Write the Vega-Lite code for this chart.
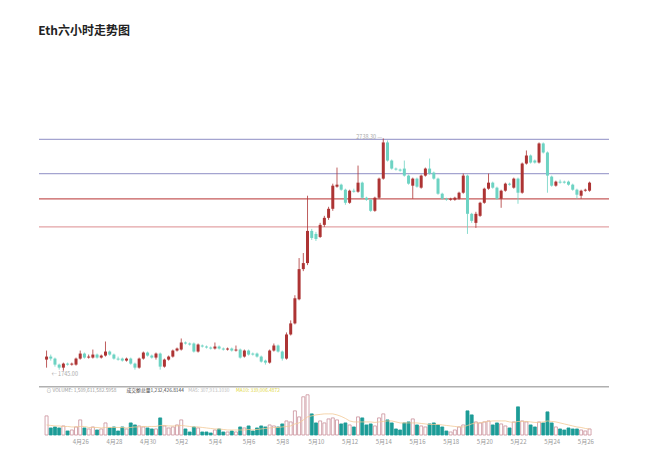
{
  "$schema": "https://vega.github.io/schema/vega-lite/v6.json",
  "width": 650,
  "height": 457,
  "autosize": {"type": "fit", "contains": "padding"},
  "padding": {"left": 38, "right": 40, "top": 25, "bottom": 13},
  "background": "white",
  "title": {"text": "Eth六小时走势图", "anchor": "start", "fontSize": 12, "fontWeight": "bold", "font": "Noto Sans CJK SC", "color": "#222222", "offset": 22},
  "config": {"view": {"stroke": null}, "text": {"font": "Noto Sans CJK SC"}},
  "datasets": {
    "k": [
      {"t":"2025-04-24T00:00","o":1792.3,"h":1831.0,"l":1757.9,"c":1805.2,"v":380000,"ma":200000},
      {"t":"2025-04-24T06:00","o":1805.2,"h":1813.8,"l":1788.0,"c":1796.6,"v":140000,"ma":190000},
      {"t":"2025-04-24T12:00","o":1796.6,"h":1800.9,"l":1762.2,"c":1770.8,"v":160000,"ma":180000},
      {"t":"2025-04-24T18:00","o":1770.8,"h":1775.1,"l":1749.3,"c":1757.9,"v":140000,"ma":180000},
      {"t":"2025-04-25T00:00","o":1757.9,"h":1779.4,"l":1745.0,"c":1775.1,"v":180000,"ma":170000},
      {"t":"2025-04-25T06:00","o":1775.1,"h":1779.4,"l":1766.5,"c":1770.8,"v":80000,"ma":170000},
      {"t":"2025-04-25T12:00","o":1770.8,"h":1779.4,"l":1766.5,"c":1775.1,"v":100000,"ma":160000},
      {"t":"2025-04-25T18:00","o":1770.8,"h":1800.9,"l":1766.5,"c":1796.6,"v":160000,"ma":160000},
      {"t":"2025-04-26T00:00","o":1796.6,"h":1831.0,"l":1792.3,"c":1818.1,"v":300000,"ma":170000},
      {"t":"2025-04-26T06:00","o":1818.1,"h":1822.4,"l":1796.6,"c":1800.9,"v":140000,"ma":170000},
      {"t":"2025-04-26T12:00","o":1800.9,"h":1813.8,"l":1796.6,"c":1805.2,"v":120000,"ma":150000},
      {"t":"2025-04-26T18:00","o":1800.9,"h":1835.3,"l":1796.6,"c":1813.8,"v":160000,"ma":150000},
      {"t":"2025-04-27T00:00","o":1813.8,"h":1818.1,"l":1796.6,"c":1800.9,"v":100000,"ma":150000},
      {"t":"2025-04-27T06:00","o":1800.9,"h":1813.8,"l":1796.6,"c":1809.5,"v":120000,"ma":140000},
      {"t":"2025-04-27T12:00","o":1809.5,"h":1869.7,"l":1805.2,"c":1826.7,"v":240000,"ma":150000},
      {"t":"2025-04-27T18:00","o":1826.7,"h":1831.0,"l":1809.5,"c":1813.8,"v":140000,"ma":150000},
      {"t":"2025-04-28T00:00","o":1813.8,"h":1818.1,"l":1792.3,"c":1796.6,"v":160000,"ma":150000},
      {"t":"2025-04-28T06:00","o":1796.6,"h":1805.2,"l":1788.0,"c":1792.3,"v":80000,"ma":150000},
      {"t":"2025-04-28T12:00","o":1796.6,"h":1800.9,"l":1783.7,"c":1788.0,"v":160000,"ma":150000},
      {"t":"2025-04-28T18:00","o":1788.0,"h":1800.9,"l":1783.7,"c":1796.6,"v":120000,"ma":140000},
      {"t":"2025-04-29T00:00","o":1796.6,"h":1800.9,"l":1770.8,"c":1775.1,"v":240000,"ma":150000},
      {"t":"2025-04-29T06:00","o":1775.1,"h":1779.4,"l":1749.3,"c":1757.9,"v":200000,"ma":160000},
      {"t":"2025-04-29T12:00","o":1757.9,"h":1800.9,"l":1753.6,"c":1796.6,"v":180000,"ma":160000},
      {"t":"2025-04-29T18:00","o":1796.6,"h":1826.7,"l":1792.3,"c":1822.4,"v":160000,"ma":170000},
      {"t":"2025-04-30T00:00","o":1822.4,"h":1826.7,"l":1805.2,"c":1809.5,"v":140000,"ma":170000},
      {"t":"2025-04-30T06:00","o":1809.5,"h":1813.8,"l":1796.6,"c":1800.9,"v":120000,"ma":170000},
      {"t":"2025-04-30T12:00","o":1800.9,"h":1822.4,"l":1792.3,"c":1818.1,"v":120000,"ma":170000},
      {"t":"2025-04-30T18:00","o":1818.1,"h":1822.4,"l":1749.3,"c":1762.2,"v":340000,"ma":190000},
      {"t":"2025-05-01T00:00","o":1762.2,"h":1796.6,"l":1757.9,"c":1792.3,"v":180000,"ma":190000},
      {"t":"2025-05-01T06:00","o":1792.3,"h":1809.5,"l":1788.0,"c":1805.2,"v":140000,"ma":180000},
      {"t":"2025-05-01T12:00","o":1805.2,"h":1835.3,"l":1800.9,"c":1831.0,"v":160000,"ma":180000},
      {"t":"2025-05-01T18:00","o":1831.0,"h":1843.9,"l":1826.7,"c":1839.6,"v":200000,"ma":180000},
      {"t":"2025-05-02T00:00","o":1835.3,"h":1882.6,"l":1831.0,"c":1865.4,"v":300000,"ma":190000},
      {"t":"2025-05-02T06:00","o":1865.4,"h":1869.7,"l":1856.8,"c":1861.1,"v":120000,"ma":180000},
      {"t":"2025-05-02T12:00","o":1861.1,"h":1865.4,"l":1852.5,"c":1856.8,"v":60000,"ma":170000},
      {"t":"2025-05-02T18:00","o":1861.1,"h":1865.4,"l":1822.4,"c":1826.7,"v":160000,"ma":160000},
      {"t":"2025-05-03T00:00","o":1826.7,"h":1861.1,"l":1822.4,"c":1856.8,"v":140000,"ma":160000},
      {"t":"2025-05-03T06:00","o":1852.5,"h":1856.8,"l":1843.9,"c":1848.2,"v":60000,"ma":150000},
      {"t":"2025-05-03T12:00","o":1848.2,"h":1852.5,"l":1839.6,"c":1843.9,"v":60000,"ma":140000},
      {"t":"2025-05-03T18:00","o":1843.9,"h":1848.2,"l":1835.3,"c":1839.6,"v":40000,"ma":130000},
      {"t":"2025-05-04T00:00","o":1839.6,"h":1865.4,"l":1835.3,"c":1848.2,"v":100000,"ma":120000},
      {"t":"2025-05-04T06:00","o":1848.2,"h":1852.5,"l":1835.3,"c":1839.6,"v":120000,"ma":120000},
      {"t":"2025-05-04T12:00","o":1839.6,"h":1843.9,"l":1831.0,"c":1835.3,"v":60000,"ma":110000},
      {"t":"2025-05-04T18:00","o":1835.3,"h":1843.9,"l":1831.0,"c":1839.6,"v":60000,"ma":100000},
      {"t":"2025-05-05T00:00","o":1839.6,"h":1843.9,"l":1826.7,"c":1831.0,"v":80000,"ma":100000},
      {"t":"2025-05-05T06:00","o":1831.0,"h":1852.5,"l":1826.7,"c":1835.3,"v":60000,"ma":100000},
      {"t":"2025-05-05T12:00","o":1835.3,"h":1839.6,"l":1796.6,"c":1800.9,"v":160000,"ma":100000},
      {"t":"2025-05-05T18:00","o":1805.2,"h":1835.3,"l":1800.9,"c":1831.0,"v":140000,"ma":100000},
      {"t":"2025-05-06T00:00","o":1831.0,"h":1835.3,"l":1809.5,"c":1813.8,"v":180000,"ma":110000},
      {"t":"2025-05-06T06:00","o":1818.1,"h":1822.4,"l":1809.5,"c":1813.8,"v":80000,"ma":100000},
      {"t":"2025-05-06T12:00","o":1818.1,"h":1822.4,"l":1800.9,"c":1805.2,"v":140000,"ma":110000},
      {"t":"2025-05-06T18:00","o":1805.2,"h":1809.5,"l":1779.4,"c":1783.7,"v":180000,"ma":120000},
      {"t":"2025-05-07T00:00","o":1788.0,"h":1792.3,"l":1770.8,"c":1779.4,"v":160000,"ma":130000},
      {"t":"2025-05-07T06:00","o":1779.4,"h":1835.3,"l":1775.1,"c":1831.0,"v":200000,"ma":140000},
      {"t":"2025-05-07T12:00","o":1831.0,"h":1861.1,"l":1826.7,"c":1852.5,"v":180000,"ma":150000},
      {"t":"2025-05-07T18:00","o":1852.5,"h":1856.8,"l":1822.4,"c":1826.7,"v":160000,"ma":150000},
      {"t":"2025-05-08T00:00","o":1826.7,"h":1831.0,"l":1788.0,"c":1796.6,"v":220000,"ma":160000},
      {"t":"2025-05-08T06:00","o":1796.6,"h":1908.4,"l":1792.3,"c":1899.8,"v":280000,"ma":170000},
      {"t":"2025-05-08T12:00","o":1899.8,"h":1960.0,"l":1895.5,"c":1947.1,"v":260000,"ma":180000},
      {"t":"2025-05-08T18:00","o":1947.1,"h":2067.5,"l":1942.8,"c":2054.6,"v":480000,"ma":220000},
      {"t":"2025-05-09T00:00","o":2050.3,"h":2226.6,"l":2046.0,"c":2179.3,"v":360000,"ma":240000},
      {"t":"2025-05-09T06:00","o":2179.3,"h":2248.1,"l":2170.7,"c":2205.1,"v":760000,"ma":300000},
      {"t":"2025-05-09T12:00","o":2205.1,"h":2493.2,"l":2196.5,"c":2342.7,"v":800000,"ma":360000},
      {"t":"2025-05-09T18:00","o":2342.7,"h":2351.3,"l":2304.0,"c":2312.6,"v":420000,"ma":380000},
      {"t":"2025-05-10T00:00","o":2329.8,"h":2338.4,"l":2299.7,"c":2308.3,"v":240000,"ma":400000},
      {"t":"2025-05-10T06:00","o":2316.9,"h":2377.1,"l":2312.6,"c":2368.5,"v":280000,"ma":410000},
      {"t":"2025-05-10T12:00","o":2368.5,"h":2407.2,"l":2359.9,"c":2398.6,"v":240000,"ma":420000},
      {"t":"2025-05-10T18:00","o":2398.6,"h":2445.9,"l":2390.0,"c":2437.3,"v":320000,"ma":420000},
      {"t":"2025-05-11T00:00","o":2437.3,"h":2544.8,"l":2428.7,"c":2536.2,"v":340000,"ma":420000},
      {"t":"2025-05-11T06:00","o":2531.9,"h":2613.6,"l":2527.6,"c":2540.5,"v":300000,"ma":400000},
      {"t":"2025-05-11T12:00","o":2540.5,"h":2544.8,"l":2514.7,"c":2519.0,"v":220000,"ma":370000},
      {"t":"2025-05-11T18:00","o":2519.0,"h":2523.3,"l":2454.5,"c":2463.1,"v":240000,"ma":330000},
      {"t":"2025-05-12T00:00","o":2463.1,"h":2519.0,"l":2458.8,"c":2514.7,"v":200000,"ma":280000},
      {"t":"2025-05-12T06:00","o":2514.7,"h":2523.3,"l":2506.1,"c":2510.4,"v":160000,"ma":260000},
      {"t":"2025-05-12T12:00","o":2510.4,"h":2622.2,"l":2506.1,"c":2549.1,"v":360000,"ma":260000},
      {"t":"2025-05-12T18:00","o":2549.1,"h":2553.4,"l":2480.3,"c":2484.6,"v":340000,"ma":260000},
      {"t":"2025-05-13T00:00","o":2484.6,"h":2488.9,"l":2471.7,"c":2476.0,"v":200000,"ma":260000},
      {"t":"2025-05-13T06:00","o":2476.0,"h":2480.3,"l":2424.4,"c":2428.7,"v":220000,"ma":260000},
      {"t":"2025-05-13T12:00","o":2428.7,"h":2488.9,"l":2424.4,"c":2484.6,"v":180000,"ma":250000},
      {"t":"2025-05-13T18:00","o":2484.6,"h":2570.6,"l":2480.3,"c":2566.3,"v":340000,"ma":260000},
      {"t":"2025-05-14T00:00","o":2566.3,"h":2738.3,"l":2562.0,"c":2721.1,"v":420000,"ma":270000},
      {"t":"2025-05-14T06:00","o":2721.1,"h":2729.7,"l":2639.4,"c":2643.7,"v":300000,"ma":280000},
      {"t":"2025-05-14T12:00","o":2643.7,"h":2648.0,"l":2605.0,"c":2609.3,"v":240000,"ma":280000},
      {"t":"2025-05-14T18:00","o":2609.3,"h":2613.6,"l":2600.7,"c":2605.0,"v":120000,"ma":260000},
      {"t":"2025-05-15T00:00","o":2605.0,"h":2609.3,"l":2596.4,"c":2600.7,"v":100000,"ma":240000},
      {"t":"2025-05-15T06:00","o":2609.3,"h":2643.7,"l":2574.9,"c":2579.2,"v":240000,"ma":240000},
      {"t":"2025-05-15T12:00","o":2579.2,"h":2583.5,"l":2540.5,"c":2544.8,"v":260000,"ma":240000},
      {"t":"2025-05-15T18:00","o":2536.2,"h":2570.6,"l":2480.3,"c":2566.3,"v":320000,"ma":240000},
      {"t":"2025-05-16T00:00","o":2566.3,"h":2570.6,"l":2527.6,"c":2531.9,"v":200000,"ma":240000},
      {"t":"2025-05-16T06:00","o":2527.6,"h":2583.5,"l":2523.3,"c":2579.2,"v":180000,"ma":230000},
      {"t":"2025-05-16T12:00","o":2579.2,"h":2613.6,"l":2574.9,"c":2609.3,"v":160000,"ma":220000},
      {"t":"2025-05-16T18:00","o":2609.3,"h":2652.3,"l":2583.5,"c":2587.8,"v":220000,"ma":210000},
      {"t":"2025-05-17T00:00","o":2592.1,"h":2596.4,"l":2562.0,"c":2566.3,"v":240000,"ma":210000},
      {"t":"2025-05-17T06:00","o":2566.3,"h":2570.6,"l":2497.5,"c":2501.8,"v":200000,"ma":210000},
      {"t":"2025-05-17T12:00","o":2501.8,"h":2506.1,"l":2476.0,"c":2480.3,"v":160000,"ma":200000},
      {"t":"2025-05-17T18:00","o":2480.3,"h":2484.6,"l":2471.7,"c":2476.0,"v":80000,"ma":190000},
      {"t":"2025-05-18T00:00","o":2476.0,"h":2484.6,"l":2471.7,"c":2480.3,"v":60000,"ma":180000},
      {"t":"2025-05-18T06:00","o":2476.0,"h":2488.9,"l":2471.7,"c":2484.6,"v":100000,"ma":170000},
      {"t":"2025-05-18T12:00","o":2480.3,"h":2510.4,"l":2476.0,"c":2506.1,"v":160000,"ma":160000},
      {"t":"2025-05-18T18:00","o":2506.1,"h":2587.8,"l":2501.8,"c":2579.2,"v":200000,"ma":160000},
      {"t":"2025-05-19T00:00","o":2579.2,"h":2583.5,"l":2329.8,"c":2415.8,"v":480000,"ma":190000},
      {"t":"2025-05-19T06:00","o":2415.8,"h":2420.1,"l":2377.1,"c":2385.7,"v":400000,"ma":220000},
      {"t":"2025-05-19T12:00","o":2377.1,"h":2424.4,"l":2355.6,"c":2415.8,"v":260000,"ma":240000},
      {"t":"2025-05-19T18:00","o":2407.2,"h":2467.4,"l":2402.9,"c":2463.1,"v":240000,"ma":240000},
      {"t":"2025-05-20T00:00","o":2463.1,"h":2527.6,"l":2458.8,"c":2523.3,"v":260000,"ma":260000},
      {"t":"2025-05-20T06:00","o":2523.3,"h":2587.8,"l":2519.0,"c":2549.1,"v":280000,"ma":270000},
      {"t":"2025-05-20T12:00","o":2549.1,"h":2553.4,"l":2523.3,"c":2527.6,"v":200000,"ma":280000},
      {"t":"2025-05-20T18:00","o":2527.6,"h":2531.9,"l":2476.0,"c":2480.3,"v":240000,"ma":280000},
      {"t":"2025-05-21T00:00","o":2480.3,"h":2519.0,"l":2441.6,"c":2514.7,"v":220000,"ma":280000},
      {"t":"2025-05-21T06:00","o":2514.7,"h":2549.1,"l":2510.4,"c":2544.8,"v":180000,"ma":280000},
      {"t":"2025-05-21T12:00","o":2544.8,"h":2549.1,"l":2536.2,"c":2540.5,"v":140000,"ma":260000},
      {"t":"2025-05-21T18:00","o":2527.6,"h":2570.6,"l":2523.3,"c":2566.3,"v":260000,"ma":250000},
      {"t":"2025-05-22T00:00","o":2566.3,"h":2570.6,"l":2458.8,"c":2506.1,"v":560000,"ma":270000},
      {"t":"2025-05-22T06:00","o":2506.1,"h":2635.1,"l":2501.8,"c":2630.8,"v":280000,"ma":270000},
      {"t":"2025-05-22T12:00","o":2630.8,"h":2686.7,"l":2626.5,"c":2665.2,"v":260000,"ma":270000},
      {"t":"2025-05-22T18:00","o":2665.2,"h":2669.5,"l":2630.8,"c":2635.1,"v":200000,"ma":260000},
      {"t":"2025-05-23T00:00","o":2643.7,"h":2648.0,"l":2630.8,"c":2635.1,"v":160000,"ma":250000},
      {"t":"2025-05-23T06:00","o":2635.1,"h":2721.1,"l":2630.8,"c":2716.8,"v":260000,"ma":250000},
      {"t":"2025-05-23T12:00","o":2716.8,"h":2721.1,"l":2673.8,"c":2678.1,"v":240000,"ma":260000},
      {"t":"2025-05-23T18:00","o":2678.1,"h":2682.4,"l":2506.1,"c":2579.2,"v":460000,"ma":280000},
      {"t":"2025-05-24T00:00","o":2574.9,"h":2579.2,"l":2531.9,"c":2536.2,"v":240000,"ma":270000},
      {"t":"2025-05-24T06:00","o":2536.2,"h":2557.7,"l":2531.9,"c":2553.4,"v":160000,"ma":260000},
      {"t":"2025-05-24T12:00","o":2553.4,"h":2562.0,"l":2544.8,"c":2549.1,"v":120000,"ma":240000},
      {"t":"2025-05-24T18:00","o":2553.4,"h":2557.7,"l":2544.8,"c":2549.1,"v":100000,"ma":220000},
      {"t":"2025-05-25T00:00","o":2553.4,"h":2557.7,"l":2536.2,"c":2540.5,"v":140000,"ma":200000},
      {"t":"2025-05-25T06:00","o":2540.5,"h":2544.8,"l":2514.7,"c":2519.0,"v":120000,"ma":180000},
      {"t":"2025-05-25T12:00","o":2519.0,"h":2523.3,"l":2480.3,"c":2497.5,"v":120000,"ma":160000},
      {"t":"2025-05-25T18:00","o":2493.2,"h":2519.0,"l":2480.3,"c":2514.7,"v":100000,"ma":150000},
      {"t":"2025-05-26T00:00","o":2514.7,"h":2523.3,"l":2510.4,"c":2519.0,"v":80000,"ma":130000},
      {"t":"2025-05-26T06:00","o":2514.7,"h":2553.4,"l":2510.4,"c":2549.1,"v":120000,"ma":120000}
    ]
  },
  "layer": [
    {
      "layer": [
        {
          "data": {"values": [{"p": 2734, "k": "a"}, {"p": 2588, "k": "b"}, {"p": 2480, "k": "c"}, {"p": 2360, "k": "d"}]},
          "mark": {"type": "rule", "strokeWidth": 1.3},
          "encoding": {
            "y": {"field": "p", "type": "quantitative", "scale": {"domain": [1469.8, 3073.7], "nice": false, "zero": false}, "axis": null},
            "color": {"condition": [{"test": "datum.k === 'a' || datum.k === 'b'", "value": "#a4a4d0"}, {"test": "datum.k === 'c'", "value": "#c65a5a"}], "value": "#e3a3a6"}
          }
        },
        {
          "data": {"name": "k"},
          "mark": {"type": "rule", "strokeWidth": 0.8},
          "encoding": {
            "x": {"field": "t", "type": "temporal", "scale": {"domain": [{"year": 2025, "month": 4, "date": 23, "hours": 20, "minutes": 22}, {"year": 2025, "month": 5, "date": 27, "hours": 2, "minutes": 36}]},
              "axis": {"title": null, "values": [{"year": 2025, "month": 4, "date": 26}, {"year": 2025, "month": 4, "date": 28}, {"year": 2025, "month": 4, "date": 30}, {"year": 2025, "month": 5, "date": 2}, {"year": 2025, "month": 5, "date": 4}, {"year": 2025, "month": 5, "date": 6}, {"year": 2025, "month": 5, "date": 8}, {"year": 2025, "month": 5, "date": 10}, {"year": 2025, "month": 5, "date": 12}, {"year": 2025, "month": 5, "date": 14}, {"year": 2025, "month": 5, "date": 16}, {"year": 2025, "month": 5, "date": 18}, {"year": 2025, "month": 5, "date": 20}, {"year": 2025, "month": 5, "date": 22}, {"year": 2025, "month": 5, "date": 24}, {"year": 2025, "month": 5, "date": 26}], "labelExpr": "(month(datum.value) + 1) + '月' + date(datum.value)", "domain": false, "ticks": false, "grid": false, "labelFontSize": 6, "labelColor": "#999999", "labelPadding": 3, "labelFont": "Noto Sans CJK SC"}},
            "y": {"field": "l", "type": "quantitative", "scale": {"domain": [1469.8, 3073.7], "nice": false, "zero": false}, "axis": null},
            "y2": {"field": "h"},
            "color": {"condition": {"test": "datum.c >= datum.o", "value": "#ad3434"}, "value": "#6dd3c3"}
          }
        },
        {
          "data": {"name": "k"},
          "mark": {"type": "bar", "width": 3},
          "encoding": {
            "x": {"field": "t", "type": "temporal", "scale": {"domain": [{"year": 2025, "month": 4, "date": 23, "hours": 20, "minutes": 22}, {"year": 2025, "month": 5, "date": 27, "hours": 2, "minutes": 36}]},
              "axis": {"title": null, "values": [{"year": 2025, "month": 4, "date": 26}, {"year": 2025, "month": 4, "date": 28}, {"year": 2025, "month": 4, "date": 30}, {"year": 2025, "month": 5, "date": 2}, {"year": 2025, "month": 5, "date": 4}, {"year": 2025, "month": 5, "date": 6}, {"year": 2025, "month": 5, "date": 8}, {"year": 2025, "month": 5, "date": 10}, {"year": 2025, "month": 5, "date": 12}, {"year": 2025, "month": 5, "date": 14}, {"year": 2025, "month": 5, "date": 16}, {"year": 2025, "month": 5, "date": 18}, {"year": 2025, "month": 5, "date": 20}, {"year": 2025, "month": 5, "date": 22}, {"year": 2025, "month": 5, "date": 24}, {"year": 2025, "month": 5, "date": 26}], "labelExpr": "(month(datum.value) + 1) + '月' + date(datum.value)", "domain": false, "ticks": false, "grid": false, "labelFontSize": 6, "labelColor": "#999999", "labelPadding": 3, "labelFont": "Noto Sans CJK SC"}},
            "y": {"field": "o", "type": "quantitative", "scale": {"domain": [1469.8, 3073.7], "nice": false, "zero": false}, "axis": null},
            "y2": {"field": "c"},
            "color": {"condition": {"test": "datum.c >= datum.o", "value": "#ad3434"}, "value": "#6dd3c3"}
          }
        },
        {
          "data": {"values": [{"t": "2025-05-14T00:00", "p": 2738.3, "label": "2738.30 —"}]},
          "mark": {"type": "text", "align": "right", "baseline": "middle", "dx": -1, "dy": -1, "fontSize": 5.5, "color": "#aaaaaa"},
          "encoding": {
            "x": {"field": "t", "type": "temporal", "scale": {"domain": [{"year": 2025, "month": 4, "date": 23, "hours": 20, "minutes": 22}, {"year": 2025, "month": 5, "date": 27, "hours": 2, "minutes": 36}]},
              "axis": {"title": null, "values": [{"year": 2025, "month": 4, "date": 26}, {"year": 2025, "month": 4, "date": 28}, {"year": 2025, "month": 4, "date": 30}, {"year": 2025, "month": 5, "date": 2}, {"year": 2025, "month": 5, "date": 4}, {"year": 2025, "month": 5, "date": 6}, {"year": 2025, "month": 5, "date": 8}, {"year": 2025, "month": 5, "date": 10}, {"year": 2025, "month": 5, "date": 12}, {"year": 2025, "month": 5, "date": 14}, {"year": 2025, "month": 5, "date": 16}, {"year": 2025, "month": 5, "date": 18}, {"year": 2025, "month": 5, "date": 20}, {"year": 2025, "month": 5, "date": 22}, {"year": 2025, "month": 5, "date": 24}, {"year": 2025, "month": 5, "date": 26}], "labelExpr": "(month(datum.value) + 1) + '月' + date(datum.value)", "domain": false, "ticks": false, "grid": false, "labelFontSize": 6, "labelColor": "#999999", "labelPadding": 3, "labelFont": "Noto Sans CJK SC"}},
            "y": {"field": "p", "type": "quantitative", "scale": {"domain": [1469.8, 3073.7], "nice": false, "zero": false}, "axis": null},
            "text": {"field": "label"}
          }
        },
        {
          "data": {"values": [{"t": "2025-04-25T00:00", "p": 1745.0, "label": "← 1745.00"}]},
          "mark": {"type": "text", "align": "left", "baseline": "top", "dx": -12, "dy": 1, "fontSize": 5.5, "color": "#aaaaaa"},
          "encoding": {
            "x": {"field": "t", "type": "temporal", "scale": {"domain": [{"year": 2025, "month": 4, "date": 23, "hours": 20, "minutes": 22}, {"year": 2025, "month": 5, "date": 27, "hours": 2, "minutes": 36}]},
              "axis": {"title": null, "values": [{"year": 2025, "month": 4, "date": 26}, {"year": 2025, "month": 4, "date": 28}, {"year": 2025, "month": 4, "date": 30}, {"year": 2025, "month": 5, "date": 2}, {"year": 2025, "month": 5, "date": 4}, {"year": 2025, "month": 5, "date": 6}, {"year": 2025, "month": 5, "date": 8}, {"year": 2025, "month": 5, "date": 10}, {"year": 2025, "month": 5, "date": 12}, {"year": 2025, "month": 5, "date": 14}, {"year": 2025, "month": 5, "date": 16}, {"year": 2025, "month": 5, "date": 18}, {"year": 2025, "month": 5, "date": 20}, {"year": 2025, "month": 5, "date": 22}, {"year": 2025, "month": 5, "date": 24}, {"year": 2025, "month": 5, "date": 26}], "labelExpr": "(month(datum.value) + 1) + '月' + date(datum.value)", "domain": false, "ticks": false, "grid": false, "labelFontSize": 6, "labelColor": "#999999", "labelPadding": 3, "labelFont": "Noto Sans CJK SC"}},
            "y": {"field": "p", "type": "quantitative", "scale": {"domain": [1469.8, 3073.7], "nice": false, "zero": false}, "axis": null},
            "text": {"field": "label"}
          }
        }
      ]
    },
    {
      "layer": [
        {
          "data": {"values": [{"v": 960000}]},
          "mark": {"type": "rule", "color": "#b0b0b0", "strokeWidth": 1.5},
          "encoding": {
            "y": {"field": "v", "type": "quantitative", "scale": {"domain": [0, 7460000], "nice": false, "zero": true}, "axis": null}
          }
        },
        {
          "data": {"values": [
            {"t": "2025-04-24T00:00", "v": 880000, "label": "⊙ VOLUME: 1,509,611,582.5958", "g": "a"},
            {"t": "2025-04-28T18:00", "v": 880000, "label": "成交额总量1,232,426.8144", "g": "b"},
            {"t": "2025-05-02T10:00", "v": 880000, "label": "MA5: 307,913.1030", "g": "c"},
            {"t": "2025-05-05T06:00", "v": 880000, "label": "MA10: 339,006.4872", "g": "d"}
          ]},
          "mark": {"type": "text", "align": "left", "baseline": "middle", "fontSize": 4.8},
          "encoding": {
            "x": {"field": "t", "type": "temporal", "scale": {"domain": [{"year": 2025, "month": 4, "date": 23, "hours": 20, "minutes": 22}, {"year": 2025, "month": 5, "date": 27, "hours": 2, "minutes": 36}]},
              "axis": {"title": null, "values": [{"year": 2025, "month": 4, "date": 26}, {"year": 2025, "month": 4, "date": 28}, {"year": 2025, "month": 4, "date": 30}, {"year": 2025, "month": 5, "date": 2}, {"year": 2025, "month": 5, "date": 4}, {"year": 2025, "month": 5, "date": 6}, {"year": 2025, "month": 5, "date": 8}, {"year": 2025, "month": 5, "date": 10}, {"year": 2025, "month": 5, "date": 12}, {"year": 2025, "month": 5, "date": 14}, {"year": 2025, "month": 5, "date": 16}, {"year": 2025, "month": 5, "date": 18}, {"year": 2025, "month": 5, "date": 20}, {"year": 2025, "month": 5, "date": 22}, {"year": 2025, "month": 5, "date": 24}, {"year": 2025, "month": 5, "date": 26}], "labelExpr": "(month(datum.value) + 1) + '月' + date(datum.value)", "domain": false, "ticks": false, "grid": false, "labelFontSize": 6, "labelColor": "#999999", "labelPadding": 3, "labelFont": "Noto Sans CJK SC"}},
            "y": {"field": "v", "type": "quantitative", "scale": {"domain": [0, 7460000], "nice": false, "zero": true}, "axis": null},
            "text": {"field": "label"},
            "color": {"condition": [{"test": "datum.g === 'a'", "value": "#999999"}, {"test": "datum.g === 'b'", "value": "#444444"}, {"test": "datum.g === 'c'", "value": "#bbbbbb"}], "value": "#e0d63a"}
          }
        },
        {
          "data": {"name": "k"},
          "mark": {"type": "bar", "width": 3, "strokeWidth": 0.8},
          "encoding": {
            "x": {"field": "t", "type": "temporal", "scale": {"domain": [{"year": 2025, "month": 4, "date": 23, "hours": 20, "minutes": 22}, {"year": 2025, "month": 5, "date": 27, "hours": 2, "minutes": 36}]},
              "axis": {"title": null, "values": [{"year": 2025, "month": 4, "date": 26}, {"year": 2025, "month": 4, "date": 28}, {"year": 2025, "month": 4, "date": 30}, {"year": 2025, "month": 5, "date": 2}, {"year": 2025, "month": 5, "date": 4}, {"year": 2025, "month": 5, "date": 6}, {"year": 2025, "month": 5, "date": 8}, {"year": 2025, "month": 5, "date": 10}, {"year": 2025, "month": 5, "date": 12}, {"year": 2025, "month": 5, "date": 14}, {"year": 2025, "month": 5, "date": 16}, {"year": 2025, "month": 5, "date": 18}, {"year": 2025, "month": 5, "date": 20}, {"year": 2025, "month": 5, "date": 22}, {"year": 2025, "month": 5, "date": 24}, {"year": 2025, "month": 5, "date": 26}], "labelExpr": "(month(datum.value) + 1) + '月' + date(datum.value)", "domain": false, "ticks": false, "grid": false, "labelFontSize": 6, "labelColor": "#999999", "labelPadding": 3, "labelFont": "Noto Sans CJK SC"}},
            "y": {"field": "v", "type": "quantitative", "scale": {"domain": [0, 7460000], "nice": false, "zero": true}, "axis": null},
            "fill": {"condition": {"test": "datum.c >= datum.o", "value": "#ffffff"}, "value": "#1c9c97"},
            "stroke": {"condition": {"test": "datum.c >= datum.o", "value": "#c98f99"}, "value": "#1c9c97"}
          }
        },
        {
          "data": {"name": "k"},
          "mark": {"type": "line", "strokeWidth": 0.8, "color": "#f2c996"},
          "encoding": {
            "x": {"field": "t", "type": "temporal", "scale": {"domain": [{"year": 2025, "month": 4, "date": 23, "hours": 20, "minutes": 22}, {"year": 2025, "month": 5, "date": 27, "hours": 2, "minutes": 36}]},
              "axis": {"title": null, "values": [{"year": 2025, "month": 4, "date": 26}, {"year": 2025, "month": 4, "date": 28}, {"year": 2025, "month": 4, "date": 30}, {"year": 2025, "month": 5, "date": 2}, {"year": 2025, "month": 5, "date": 4}, {"year": 2025, "month": 5, "date": 6}, {"year": 2025, "month": 5, "date": 8}, {"year": 2025, "month": 5, "date": 10}, {"year": 2025, "month": 5, "date": 12}, {"year": 2025, "month": 5, "date": 14}, {"year": 2025, "month": 5, "date": 16}, {"year": 2025, "month": 5, "date": 18}, {"year": 2025, "month": 5, "date": 20}, {"year": 2025, "month": 5, "date": 22}, {"year": 2025, "month": 5, "date": 24}, {"year": 2025, "month": 5, "date": 26}], "labelExpr": "(month(datum.value) + 1) + '月' + date(datum.value)", "domain": false, "ticks": false, "grid": false, "labelFontSize": 6, "labelColor": "#999999", "labelPadding": 3, "labelFont": "Noto Sans CJK SC"}},
            "y": {"field": "ma", "type": "quantitative", "scale": {"domain": [0, 7460000], "nice": false, "zero": true}, "axis": null}
          }
        }
      ]
    }
  ],
  "resolve": {"scale": {"y": "independent"}, "axis": {"y": "independent"}}
}
